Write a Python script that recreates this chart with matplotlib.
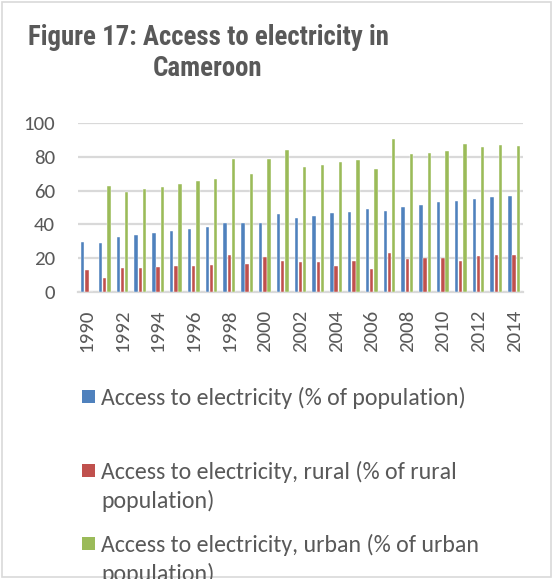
import matplotlib
matplotlib.use("Agg")
import matplotlib.pyplot as plt
from matplotlib.patches import Rectangle
import numpy as np

years = list(range(1990, 2015))
total = [29.7, 28.7, 32.3, 33.5, 34.7, 35.8, 37.0, 38.2, 40.6, 40.6,
         40.8, 46.1, 43.8, 45.0, 46.7, 47.3, 48.9, 47.9, 50.5, 51.7,
         53.1, 53.7, 55.2, 56.4, 56.8]
rural = [12.9, 8.1, 13.9, 14.1, 14.5, 15.0, 15.2, 15.6, 21.6, 16.4,
         20.6, 18.2, 17.4, 17.6, 15.2, 18.2, 13.7, 23.2, 19.4, 19.8,
         20.2, 18.2, 21.2, 21.6, 22.0]
urban = [0.0, 62.8, 59.0, 60.8, 62.4, 64.0, 65.5, 66.9, 78.8, 70.1,
         78.8, 84.0, 74.1, 75.4, 77.0, 78.0, 72.9, 90.5, 81.6, 82.6,
         83.6, 87.5, 85.9, 87.1, 86.7]
series_labels = [
    "Access to electricity (% of population)",
    "Access to electricity, rural (% of rural\npopulation)",
    "Access to electricity, urban (% of urban\npopulation)",
]
colors = ["#4F81BD", "#C0504D", "#9BBB59"]
tick_years = years[::2]

W, H = 553, 579
fig = plt.figure(figsize=(W / 100, H / 100), dpi=100)
plt.rcParams["font.family"] = ["Carlito", "Lato", "DejaVu Sans"]
text_gray = "#595959"
title_font = ["Roboto Condensed", "Liberation Sans", "DejaVu Sans"]

# outer chart border
fig.patches.append(Rectangle((2 / W, 2 / H), (W - 4) / W, (H - 4) / H,
                             transform=fig.transFigure, fill=False,
                             edgecolor="#D9D9D9", linewidth=1.2))

# title
fig.text(28 / W, 1 - 45 / H, "Figure 17: Access to electricity in",
         family=title_font, weight="bold",
         fontsize=19.4, color=text_gray, ha="left", va="baseline")
fig.text(153 / W, 1 - 76 / H, "Cameroon",
         family=title_font, weight="bold",
         fontsize=19.4, color=text_gray, ha="left", va="baseline")

# plot area
left, right, top, bottom = 78, 523, 123.3, 291.7
ax = fig.add_axes([left / W, 1 - bottom / H, (right - left) / W, (bottom - top) / H])
x = np.arange(len(years))
bw = 0.19
off = 0.235
for i, (vals, c) in enumerate(zip([total, rural, urban], colors)):
    ax.bar(x + (i - 1) * off, vals, width=bw, color=c, edgecolor="white",
           linewidth=0.3, zorder=3)

ax.set_xlim(-0.5, len(years) - 0.5)
ax.set_ylim(0, 100)
ax.set_yticks(range(0, 101, 20))
ax.grid(axis="y", color="#D9D9D9", linewidth=1.6, zorder=0)
for s in ["top", "right", "left"]:
    ax.spines[s].set_visible(False)
ax.spines["bottom"].set_color("#D9D9D9")
ax.spines["bottom"].set_linewidth(1.6)
ax.set_xticks([years.index(y) for y in tick_years])
ax.set_xticklabels([str(y) for y in tick_years], rotation=90)
ax.tick_params(axis="both", length=0, labelsize=15, colors=text_gray)
ax.tick_params(axis="y", pad=16.5)
ax.tick_params(axis="x", pad=13)

# legend, one entry per row; wrapped labels continue on the next line
rows_y = [396, 470, 543]
line_step = 29
for label, c, yc in zip(series_labels, colors, rows_y):
    fig.patches.append(Rectangle((82 / W, 1 - (yc + 7) / H), 13 / W, 13 / H,
                                 transform=fig.transFigure, facecolor=c,
                                 edgecolor="none"))
    for k, line in enumerate(label.split("\n")):
        fig.text(101 / W, 1 - (yc + k * line_step) / H, line, fontsize=17.2,
                 color=text_gray, ha="left", va="center_baseline")

fig.savefig("out.png", dpi=100)
